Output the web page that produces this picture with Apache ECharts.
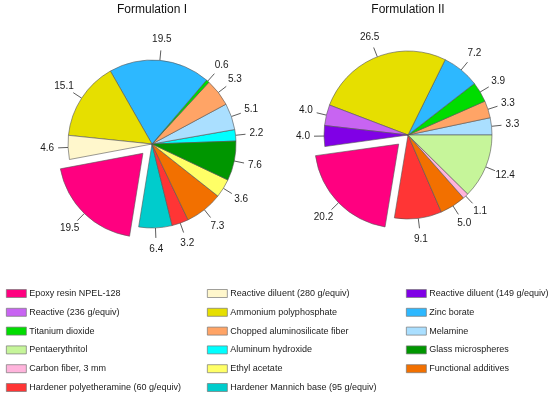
<!DOCTYPE html>
<html>
<head>
<meta charset="utf-8">
<script src="https://cdn.jsdelivr.net/npm/echarts@6/dist/echarts.min.js"></script>
<style>
html,body{margin:0;padding:0;background:#fff;}
#chart{width:550px;height:397px;}
</style>
</head>
<body>
<div id="chart"></div>
<script>
// ---- DATA ----
const ingredientNames = [
  'Epoxy resin NPEL-128', 'Reactive (236 g/equiv)', 'Titanium dioxide', 'Pentaerythritol',
  'Carbon fiber, 3 mm', 'Hardener polyetheramine (60 g/equiv)',
  'Reactive diluent (280 g/equiv)', 'Ammonium polyphosphate', 'Chopped aluminosilicate fiber',
  'Aluminum hydroxide', 'Ethyl acetate', 'Hardener Mannich base (95 g/equiv)',
  'Reactive diluent (149 g/equiv)', 'Zinc borate', 'Melamine', 'Glass microspheres', 'Functional additives'
];
const ingredientColors = [
  '#FF0080', '#C864F2', '#00DD00', '#C6F59A',
  '#FFB4DC', '#FF3535',
  '#FFF7CC', '#E6DF00', '#FFA466',
  '#00FFFF', '#FFFF66', '#00CCCC',
  '#8000E6', '#2DB8FF', '#AADFFF', '#009600', '#F27000'
];
const legendCol1 = ['Epoxy resin NPEL-128', 'Reactive (236 g/equiv)', 'Titanium dioxide', 'Pentaerythritol', 'Carbon fiber, 3 mm', 'Hardener polyetheramine (60 g/equiv)'];
const legendCol2 = ['Reactive diluent (280 g/equiv)', 'Ammonium polyphosphate', 'Chopped aluminosilicate fiber', 'Aluminum hydroxide', 'Ethyl acetate', 'Hardener Mannich base (95 g/equiv)'];
const legendCol3 = ['Reactive diluent (149 g/equiv)', 'Zinc borate', 'Melamine', 'Glass microspheres', 'Functional additives'];

const titles = ['Formulation I', 'Formulation II'];
const explodedName = 'Epoxy resin NPEL-128';

const f1Names = ['Aluminum hydroxide', 'Melamine', 'Chopped aluminosilicate fiber', 'Titanium dioxide',
  'Zinc borate', 'Ammonium polyphosphate', 'Reactive diluent (280 g/equiv)', 'Epoxy resin NPEL-128',
  'Hardener Mannich base (95 g/equiv)', 'Hardener polyetheramine (60 g/equiv)', 'Functional additives',
  'Ethyl acetate', 'Glass microspheres'];
const f1Values = [2.2, 5.1, 5.3, 0.6, 19.5, 15.1, 4.6, 19.5, 6.4, 3.2, 7.3, 3.6, 7.6];

const f2Names = ['Melamine', 'Chopped aluminosilicate fiber', 'Titanium dioxide', 'Zinc borate',
  'Ammonium polyphosphate', 'Reactive (236 g/equiv)', 'Reactive diluent (149 g/equiv)', 'Epoxy resin NPEL-128',
  'Hardener polyetheramine (60 g/equiv)', 'Functional additives', 'Carbon fiber, 3 mm', 'Pentaerythritol'];
const f2Values = [3.3, 3.3, 3.9, 7.2, 26.5, 4.0, 4.0, 20.2, 9.1, 5.0, 1.1, 12.4];

// ---- STYLE / LAYOUT ----
const FONT = '"Liberation Sans", Arial, Helvetica, sans-serif';
const R = 84;
const pies = [
  { names: f1Names, values: f1Values, center: [152, 144], start: 2 },
  { names: f2Names, values: f2Values, center: [408, 135], start: 0 }
];
const EXPLODE = 13;

function colorOf(name) { return ingredientColors[ingredientNames.indexOf(name)]; }

function labelLayoutFn(p) {
  const pts = p.labelLinePoints;
  if (!pts || pts.length < 2) return {};
  const x0 = pts[0][0], y0 = pts[0][1], x1 = pts[1][0], y1 = pts[1][1];
  const dx = x1 - x0, dy = y1 - y0;
  const len = Math.sqrt(dx * dx + dy * dy) || 1;
  const ux = dx / len, uy = dy / len;
  return {
    x: x0 + ux * R * 0.25,
    y: y0 + uy * R * 0.25,
    align: 'center',
    verticalAlign: 'middle',
    labelLinePoints: [[x0, y0], [x1, y1]]
  };
}

function baseSeries(pie, center, showOnlyExploded) {
  const data = pie.names.map((n, i) => {
    const visible = showOnlyExploded ? (n === explodedName) : (n !== explodedName);
    const item = { name: n, value: pie.values[i] };
    if (visible) {
      item.itemStyle = { color: colorOf(n) };
    } else {
      item.itemStyle = { color: 'rgba(0,0,0,0)', borderWidth: 0 };
      item.label = { show: false };
      item.labelLine = { show: false };
    }
    return item;
  });
  return {
    type: 'pie',
    center: center,
    radius: R,
    startAngle: pie.start,
    clockwise: false,
    avoidLabelOverlap: false,
    silent: true,
    animation: false,
    minShowLabelAngle: 0,
    itemStyle: { borderColor: '#555', borderWidth: 0.6 },
    label: {
      show: true, position: 'outside', fontSize: 10, fontFamily: FONT, color: '#1a1a1a',
      formatter: (q) => Number(q.value).toFixed(1)
    },
    labelLine: { show: true, length: 10, length2: 0, smooth: false, lineStyle: { color: '#333', width: 0.8 } },
    labelLayout: labelLayoutFn,
    emphasis: { disabled: true },
    data: data
  };
}

const series = [];
pies.forEach(pie => {
  series.push(baseSeries(pie, pie.center, false));
  // exploded slice: shift along its mid angle (derived from data)
  const total = pie.values.reduce((a, b) => a + b, 0);
  const idx = pie.names.indexOf(explodedName);
  let before = 0;
  for (let i = 0; i < idx; i++) before += pie.values[i];
  const midDeg = pie.start + (before + pie.values[idx] / 2) / total * 360;
  const a = midDeg * Math.PI / 180;
  const c2 = [pie.center[0] + Math.cos(a) * EXPLODE, pie.center[1] - Math.sin(a) * EXPLODE];
  series.push(baseSeries(pie, c2, true));
});

function legendData(col) {
  return col.map(n => ({ name: n, itemStyle: { color: colorOf(n), borderColor: '#777', borderWidth: 0.7 } }));
}
function legendComp(col, left) {
  return {
    orient: 'vertical', left: left, top: 288.5, padding: 0,
    itemWidth: 20, itemHeight: 8, itemGap: 8.8, icon: 'rect',
    selectedMode: false,
    textStyle: { fontSize: 9, fontFamily: FONT, color: '#1a1a1a', lineHeight: 10, padding: [0, 0, 0, -2] },
    data: legendData(col)
  };
}

const option = {
  backgroundColor: '#fff',
  animation: false,
  title: [
    { text: titles[0], left: pies[0].center[0], top: 3.5, padding: 0, textAlign: 'center',
      textStyle: { fontSize: 12, fontWeight: 'normal', fontFamily: FONT, color: '#111' } },
    { text: titles[1], left: pies[1].center[0], top: 3.5, padding: 0, textAlign: 'center',
      textStyle: { fontSize: 12, fontWeight: 'normal', fontFamily: FONT, color: '#111' } }
  ],
  legend: [legendComp(legendCol1, 6), legendComp(legendCol2, 207), legendComp(legendCol3, 406)],
  series: series
};

const chart = echarts.init(document.getElementById('chart'), null, { renderer: 'canvas' });
chart.setOption(option);
</script>
</body>
</html>
